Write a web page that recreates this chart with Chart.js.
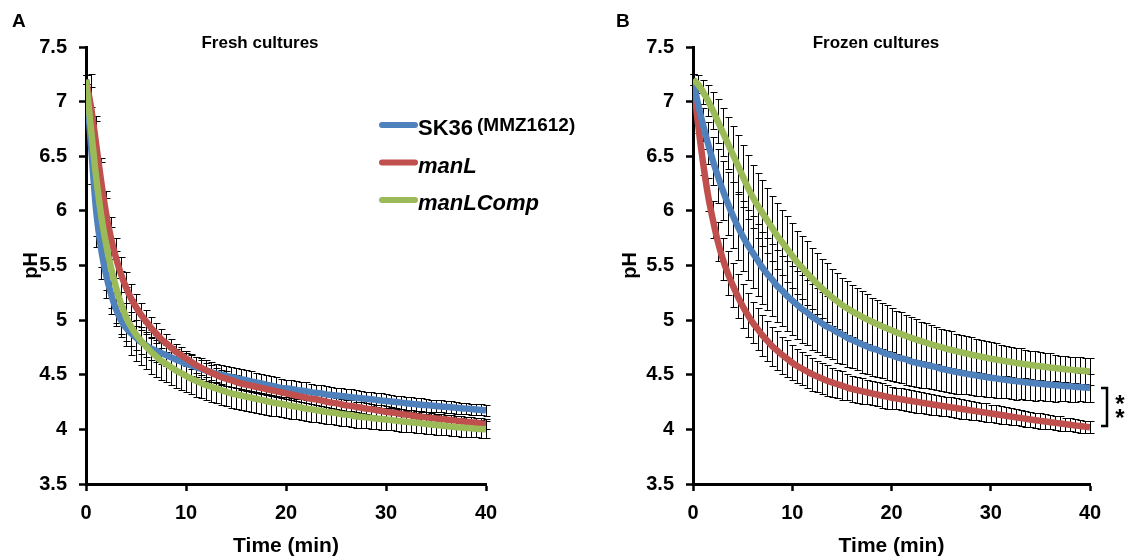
<!DOCTYPE html>
<html>
<head>
<meta charset="utf-8">
<title>pH drop, fresh and frozen cultures</title>
<script src="https://cdn.jsdelivr.net/npm/chart.js@4.4.0/dist/chart.umd.min.js"></script>
<style>
  html, body { margin: 0; padding: 0; background: #fff; }
  #wrap { position: relative; width: 1127px; height: 559px; overflow: hidden; }
  .panel { position: absolute; top: 0; height: 559px; }
  #panelA { left: 0; width: 600px; }
  #panelB { left: 563px; width: 564px; }
</style>
</head>
<body>
<div id="wrap">
  <div class="panel" id="panelA"><canvas id="chartA" width="600" height="559"></canvas></div>
  <div class="panel" id="panelB"><canvas id="chartB" width="564" height="559"></canvas></div>
</div>
<script>
// ============================================================
// DATA (pH, every 0.5 min)
// ============================================================
const time = [
  0, 0.5, 1, 1.5, 2, 2.5, 3, 3.5, 4, 4.5,
  5, 5.5, 6, 6.5, 7, 7.5, 8, 8.5, 9, 9.5,
  10, 10.5, 11, 11.5, 12, 12.5, 13, 13.5, 14, 14.5,
  15, 15.5, 16, 16.5, 17, 17.5, 18, 18.5, 19, 19.5,
  20, 20.5, 21, 21.5, 22, 22.5, 23, 23.5, 24, 24.5,
  25, 25.5, 26, 26.5, 27, 27.5, 28, 28.5, 29, 29.5,
  30, 30.5, 31, 31.5, 32, 32.5, 33, 33.5, 34, 34.5,
  35, 35.5, 36, 36.5, 37, 37.5, 38, 38.5, 39, 39.5,
  40
];

const seriesNames = ['SK36', 'manL', 'manLComp'];

// --- A: fresh cultures ---
const freshSK36 = [
  7.20, 6.60, 6.02, 5.66, 5.42, 5.24, 5.10, 5.00, 4.93, 4.88,
  4.84, 4.80, 4.77, 4.74, 4.72, 4.70, 4.68, 4.66, 4.64, 4.62,
  4.60, 4.585, 4.57, 4.555, 4.54, 4.525, 4.51, 4.50, 4.49, 4.48,
  4.47, 4.46, 4.45, 4.44, 4.43, 4.42, 4.41, 4.40, 4.39, 4.38,
  4.375, 4.37, 4.36, 4.355, 4.35, 4.34, 4.335, 4.33, 4.32, 4.315,
  4.31, 4.305, 4.30, 4.295, 4.29, 4.285, 4.28, 4.275, 4.27, 4.265,
  4.26, 4.255, 4.25, 4.245, 4.24, 4.235, 4.23, 4.226, 4.222, 4.218,
  4.214, 4.21, 4.206, 4.202, 4.198, 4.194, 4.19, 4.186, 4.182, 4.178,
  4.174
];
const freshManL = [
  7.20, 6.95, 6.62, 6.28, 5.98, 5.75, 5.57, 5.42, 5.30, 5.20,
  5.12, 5.05, 4.99, 4.93, 4.88, 4.83, 4.79, 4.75, 4.71, 4.68,
  4.65, 4.62, 4.59, 4.565, 4.54, 4.52, 4.50, 4.48, 4.465, 4.45,
  4.435, 4.42, 4.41, 4.40, 4.39, 4.38, 4.37, 4.36, 4.35, 4.34,
  4.33, 4.32, 4.31, 4.30, 4.29, 4.28, 4.275, 4.265, 4.255, 4.245,
  4.24, 4.23, 4.22, 4.215, 4.205, 4.20, 4.19, 4.185, 4.175, 4.17,
  4.16, 4.155, 4.15, 4.14, 4.135, 4.13, 4.12, 4.115, 4.11, 4.105,
  4.10, 4.095, 4.09, 4.085, 4.08, 4.075, 4.07, 4.065, 4.06, 4.055,
  4.05
];
const freshManLComp = [
  7.20, 6.75, 6.32, 5.97, 5.70, 5.48, 5.30, 5.15, 5.03, 4.94,
  4.87, 4.81, 4.76, 4.71, 4.67, 4.63, 4.60, 4.57, 4.54, 4.515,
  4.49, 4.465, 4.445, 4.425, 4.405, 4.39, 4.375, 4.36, 4.345, 4.33,
  4.32, 4.31, 4.30, 4.29, 4.28, 4.27, 4.26, 4.25, 4.24, 4.235,
  4.225, 4.215, 4.21, 4.20, 4.19, 4.185, 4.175, 4.17, 4.16, 4.155,
  4.15, 4.14, 4.135, 4.13, 4.12, 4.115, 4.11, 4.105, 4.10, 4.095,
  4.09, 4.085, 4.08, 4.075, 4.07, 4.065, 4.06, 4.055, 4.05, 4.045,
  4.04, 4.035, 4.03, 4.025, 4.02, 4.017, 4.013, 4.01, 4.006, 4.003,
  4.00
];
const freshSK36Err = [
  0.04, 0.35, 0.35, 0.28, 0.22, 0.18, 0.15, 0.13, 0.12, 0.115,
  0.11, 0.11, 0.105, 0.105, 0.10, 0.10, 0.10, 0.10, 0.10, 0.10,
  0.10, 0.095, 0.095, 0.095, 0.095, 0.095, 0.09, 0.09, 0.09, 0.09,
  0.09, 0.09, 0.09, 0.09, 0.09, 0.085, 0.085, 0.085, 0.085, 0.08,
  0.08, 0.08, 0.08, 0.08, 0.08, 0.075, 0.075, 0.075, 0.075, 0.07,
  0.07, 0.07, 0.07, 0.07, 0.07, 0.07, 0.065, 0.065, 0.065, 0.065,
  0.065, 0.06, 0.06, 0.06, 0.06, 0.06, 0.06, 0.06, 0.06, 0.055,
  0.055, 0.055, 0.055, 0.055, 0.055, 0.05, 0.05, 0.05, 0.05, 0.05,
  0.05
];
const freshManLErr = [
  0.04, 0.18, 0.20, 0.20, 0.20, 0.19, 0.18, 0.16, 0.14, 0.13,
  0.12, 0.11, 0.10, 0.095, 0.09, 0.085, 0.08, 0.08, 0.075, 0.075,
  0.07, 0.07, 0.07, 0.07, 0.065, 0.065, 0.065, 0.065, 0.065, 0.06,
  0.06, 0.06, 0.06, 0.06, 0.06, 0.06, 0.055, 0.055, 0.055, 0.055,
  0.055, 0.055, 0.05, 0.05, 0.05, 0.05, 0.05, 0.05, 0.05, 0.05,
  0.05, 0.05, 0.05, 0.05, 0.05, 0.05, 0.05, 0.05, 0.05, 0.05,
  0.05, 0.05, 0.05, 0.05, 0.045, 0.045, 0.045, 0.045, 0.045, 0.045,
  0.045, 0.045, 0.045, 0.045, 0.045, 0.045, 0.045, 0.045, 0.045, 0.045,
  0.045
];
const freshManLCompErr = [
  0.04, 0.50, 0.55, 0.48, 0.42, 0.37, 0.33, 0.30, 0.27, 0.255,
  0.24, 0.225, 0.21, 0.20, 0.19, 0.18, 0.17, 0.165, 0.16, 0.155,
  0.15, 0.145, 0.145, 0.14, 0.14, 0.14, 0.135, 0.135, 0.135, 0.13,
  0.13, 0.13, 0.13, 0.13, 0.13, 0.125, 0.125, 0.125, 0.12, 0.12,
  0.12, 0.12, 0.115, 0.115, 0.115, 0.115, 0.11, 0.11, 0.11, 0.11,
  0.11, 0.105, 0.105, 0.105, 0.105, 0.10, 0.10, 0.10, 0.10, 0.10,
  0.10, 0.095, 0.095, 0.095, 0.095, 0.09, 0.09, 0.09, 0.09, 0.09,
  0.09, 0.085, 0.085, 0.085, 0.085, 0.085, 0.08, 0.08, 0.08, 0.08,
  0.08
];

// --- B: frozen cultures ---
const frozenSK36 = [
  7.20, 6.98, 6.79, 6.62, 6.46, 6.32, 6.19, 6.07, 5.96, 5.86,
  5.77, 5.69, 5.62, 5.55, 5.48, 5.42, 5.37, 5.31, 5.27, 5.22,
  5.18, 5.14, 5.10, 5.07, 5.03, 5.00, 4.97, 4.94, 4.92, 4.89,
  4.87, 4.84, 4.82, 4.80, 4.78, 4.76, 4.74, 4.73, 4.71, 4.69,
  4.68, 4.66, 4.65, 4.64, 4.62, 4.61, 4.60, 4.59, 4.58, 4.57,
  4.555, 4.546, 4.536, 4.527, 4.518, 4.51, 4.502, 4.494, 4.487, 4.48,
  4.473, 4.467, 4.46, 4.454, 4.448, 4.443, 4.437, 4.432, 4.427, 4.422,
  4.418, 4.413, 4.409, 4.405, 4.401, 4.397, 4.394, 4.39, 4.387, 4.383,
  4.38
];
const frozenManL = [
  7.20, 6.80, 6.45, 6.15, 5.92, 5.72, 5.56, 5.43, 5.32, 5.22,
  5.13, 5.05, 4.98, 4.92, 4.86, 4.81, 4.76, 4.72, 4.68, 4.645,
  4.61, 4.58, 4.555, 4.53, 4.505, 4.485, 4.465, 4.445, 4.43, 4.415,
  4.40, 4.385, 4.37, 4.36, 4.35, 4.34, 4.33, 4.32, 4.31, 4.30,
  4.29, 4.283, 4.275, 4.268, 4.26, 4.253, 4.245, 4.238, 4.23, 4.223,
  4.216, 4.209, 4.202, 4.195, 4.188, 4.181, 4.174, 4.167, 4.16, 4.153,
  4.146, 4.139, 4.132, 4.125, 4.118, 4.111, 4.104, 4.097, 4.09, 4.084,
  4.078, 4.072, 4.066, 4.06, 4.054, 4.048, 4.042, 4.036, 4.03, 4.025,
  4.02
];
const frozenManLComp = [
  7.20, 7.16, 7.09, 7.01, 6.92, 6.82, 6.72, 6.62, 6.52, 6.42,
  6.32, 6.22, 6.13, 6.05, 5.98, 5.91, 5.84, 5.77, 5.71, 5.65,
  5.59, 5.53, 5.48, 5.43, 5.38, 5.335, 5.29, 5.25, 5.21, 5.175,
  5.14, 5.11, 5.082, 5.057, 5.033, 5.01, 4.987, 4.966, 4.945, 4.926,
  4.907, 4.888, 4.871, 4.854, 4.838, 4.822, 4.807, 4.793, 4.779, 4.765,
  4.753, 4.74, 4.728, 4.717, 4.706, 4.695, 4.685, 4.675, 4.666, 4.657,
  4.648, 4.64, 4.632, 4.624, 4.617, 4.609, 4.603, 4.596, 4.59, 4.583,
  4.578, 4.572, 4.567, 4.561, 4.556, 4.551, 4.547, 4.542, 4.538, 4.534,
  4.53
];
const frozenSK36Err = [
  0.05, 0.10, 0.15, 0.19, 0.22, 0.25, 0.27, 0.29, 0.30, 0.31,
  0.32, 0.32, 0.33, 0.33, 0.33, 0.33, 0.33, 0.33, 0.32, 0.32,
  0.32, 0.31, 0.31, 0.30, 0.30, 0.29, 0.29, 0.28, 0.28, 0.28,
  0.27, 0.27, 0.26, 0.26, 0.26, 0.25, 0.25, 0.25, 0.24, 0.24,
  0.24, 0.23, 0.23, 0.23, 0.22, 0.22, 0.22, 0.21, 0.21, 0.21,
  0.20, 0.20, 0.20, 0.20, 0.19, 0.19, 0.19, 0.19, 0.18, 0.18,
  0.18, 0.18, 0.17, 0.17, 0.17, 0.17, 0.16, 0.16, 0.16, 0.16,
  0.15, 0.15, 0.15, 0.15, 0.14, 0.14, 0.14, 0.14, 0.13, 0.13,
  0.13
];
const frozenManLErr = [
  0.05, 0.09, 0.12, 0.15, 0.17, 0.18, 0.19, 0.20, 0.20, 0.20,
  0.20, 0.20, 0.19, 0.19, 0.19, 0.18, 0.18, 0.18, 0.17, 0.17,
  0.16, 0.16, 0.15, 0.15, 0.15, 0.14, 0.14, 0.14, 0.13, 0.13,
  0.13, 0.12, 0.12, 0.12, 0.12, 0.11, 0.11, 0.11, 0.11, 0.11,
  0.10, 0.10, 0.10, 0.10, 0.10, 0.10, 0.095, 0.095, 0.095, 0.095,
  0.09, 0.09, 0.09, 0.09, 0.09, 0.085, 0.085, 0.085, 0.085, 0.085,
  0.08, 0.08, 0.08, 0.08, 0.075, 0.075, 0.075, 0.075, 0.07, 0.07,
  0.07, 0.07, 0.065, 0.065, 0.065, 0.06, 0.06, 0.06, 0.06, 0.055,
  0.055
];
const frozenManLCompErr = [
  0.05, 0.08, 0.11, 0.14, 0.17, 0.20, 0.22, 0.24, 0.26, 0.27,
  0.28, 0.29, 0.29, 0.30, 0.30, 0.30, 0.30, 0.30, 0.30, 0.30,
  0.30, 0.29, 0.29, 0.29, 0.28, 0.28, 0.27, 0.27, 0.26, 0.26,
  0.25, 0.25, 0.24, 0.24, 0.23, 0.23, 0.22, 0.22, 0.21, 0.21,
  0.20, 0.20, 0.20, 0.19, 0.19, 0.19, 0.18, 0.18, 0.18, 0.17,
  0.17, 0.17, 0.17, 0.16, 0.16, 0.16, 0.16, 0.15, 0.15, 0.15,
  0.15, 0.15, 0.14, 0.14, 0.14, 0.14, 0.14, 0.13, 0.13, 0.13,
  0.13, 0.13, 0.13, 0.12, 0.12, 0.12, 0.12, 0.12, 0.12, 0.12,
  0.12
];

// significance bracket on panel B spans the SK36 and manL end values
const bracketFrom = 4.38;
const bracketTo = 4.03;

// ============================================================
// STYLE
// ============================================================
const FONT = "'Liberation Sans', Arial, Helvetica, sans-serif";
const COLORS = { blue: '#4F81BD', red: '#C0504D', green: '#9BBB59' };

function toPoints(values) {
  return time.map((t, i) => ({ x: t, y: values[i] }));
}

// ============================================================
// PLUGINS
// ============================================================
// vertical error bars with caps, drawn under the lines
const errorBars = {
  id: 'errorBars',
  beforeDatasetsDraw(chart) {
    const { ctx, scales: { x, y } } = chart;
    ctx.save();
    ctx.strokeStyle = '#000';
    ctx.lineWidth = 1;
    chart.data.datasets.forEach(ds => {
      if (!ds.errors) return;
      ds.data.forEach((p, i) => {
        const e = ds.errors[i];
        const px = Math.round(x.getPixelForValue(p.x)) + 0.5;
        const top = Math.round(y.getPixelForValue(p.y + e)) + 0.5;
        const bot = Math.round(y.getPixelForValue(p.y - e)) + 0.5;
        ctx.beginPath();
        ctx.moveTo(px, top); ctx.lineTo(px, bot);
        ctx.moveTo(px - 3, top); ctx.lineTo(px + 4, top);
        ctx.moveTo(px - 3, bot); ctx.lineTo(px + 4, bot);
        ctx.stroke();
      });
    });
    ctx.restore();
  }
};

// panel letter, panel title, legend and significance mark
const panelText = {
  id: 'panelText',
  afterDraw(chart, args, opts) {
    const ctx = chart.ctx;
    ctx.save();
    ctx.fillStyle = '#000';
    ctx.textBaseline = 'alphabetic';

    ctx.font = `bold 19px ${FONT}`;
    ctx.textAlign = 'left';
    ctx.fillText(opts.letter, opts.letterX, 27);

    ctx.font = `bold 17px ${FONT}`;
    ctx.textAlign = 'center';
    ctx.fillText(opts.title, opts.titleX, 48);

    if (opts.legend) {
      const lg = opts.legend;
      lg.items.forEach((it, i) => {
        const ly = lg.y + i * lg.gap;
        ctx.strokeStyle = it.color;
        ctx.lineWidth = 6;
        ctx.lineCap = 'round';
        ctx.beginPath();
        ctx.moveTo(lg.x, ly);
        ctx.lineTo(lg.x + 33, ly);
        ctx.stroke();
        ctx.textAlign = 'left';
        ctx.textBaseline = 'middle';
        ctx.font = `${it.italic ? 'italic ' : ''}bold 22px ${FONT}`;
        ctx.fillText(it.label, lg.x + 36, ly + 4);
        if (it.note) {
          const w = ctx.measureText(it.label).width;
          ctx.font = `bold 19px ${FONT}`;
          ctx.fillText(it.note, lg.x + 36 + w + 4, ly + 1);
        }
      });
    }

    if (opts.bracket) {
      const y = chart.scales.y;
      const y1 = Math.round(y.getPixelForValue(opts.bracket.from));
      const y2 = Math.round(y.getPixelForValue(opts.bracket.to));
      const bx = chart.chartArea.right + 17;
      ctx.strokeStyle = '#000';
      ctx.lineWidth = 2.5;
      ctx.lineCap = 'butt';
      ctx.beginPath();
      ctx.moveTo(bx - 6, y1); ctx.lineTo(bx, y1);
      ctx.lineTo(bx, y2); ctx.lineTo(bx - 6, y2);
      ctx.stroke();
      ctx.font = `bold 24px ${FONT}`;
      ctx.textAlign = 'center';
      ctx.textBaseline = 'middle';
      const mid = (y1 + y2) / 2;
      ctx.fillText('*', bx + 13, mid - 2);
      ctx.fillText('*', bx + 13, mid + 12);
    }
    ctx.restore();
  }
};

// ============================================================
// CHART FACTORY
// ============================================================
function buildChart(canvasId, series, layout, textOpts) {
  const datasets = series.map(s => ({
    label: s.label,
    data: toPoints(s.values),
    errors: s.errors,
    borderColor: s.color,
    backgroundColor: s.color,
    borderWidth: 6.5,
    pointRadius: 0,
    tension: 0.3,
    fill: false,
    order: s.order
  }));

  const tickFont = { family: FONT, size: 20, weight: 'bold' };

  return new Chart(document.getElementById(canvasId), {
    type: 'line',
    data: { datasets },
    plugins: [errorBars, panelText],
    options: {
      responsive: false,
      animation: false,
      devicePixelRatio: 1,
      layout: { padding: { left: layout.padLeft, top: 47, right: layout.padRight, bottom: 0 } },
      plugins: {
        legend: { display: false },
        tooltip: { enabled: false },
        panelText: textOpts
      },
      scales: {
        x: {
          type: 'linear',
          min: 0, max: 40,
          ticks: { stepSize: 10, color: '#000', padding: 10, font: tickFont, callback: v => String(v) },
          grid: { display: true, drawOnChartArea: false, drawTicks: true, tickLength: 7, tickWidth: 2.5, tickColor: '#000', color: '#000' },
          border: { display: true, color: '#000', width: 3 },
          title: { display: true, text: 'Time (min)', color: '#000', padding: { top: 0, bottom: 0 }, font: { family: FONT, size: 21, weight: 'bold' } },
          afterFit: s => { s.height = 75; }
        },
        y: {
          type: 'linear',
          min: 3.5, max: 7.5,
          ticks: { stepSize: 0.5, color: '#000', padding: 12, font: tickFont, callback: v => String(v) },
          grid: { display: true, drawOnChartArea: false, drawTicks: true, tickLength: 7, tickWidth: 2.5, tickColor: '#000', color: '#000' },
          border: { display: true, color: '#000', width: 3 },
          title: { display: true, text: 'pH', color: '#000', padding: { top: 5, bottom: 0 }, font: { family: FONT, size: 20, weight: 'bold' } },
          afterFit: s => { s.width = layout.yWidth; }
        }
      }
    }
  });
}

// ============================================================
// INIT
// ============================================================
buildChart('chartA', [
  { label: seriesNames[0], values: freshSK36, errors: freshSK36Err, color: COLORS.blue, order: 2 },
  { label: seriesNames[1], values: freshManL, errors: freshManLErr, color: COLORS.red, order: 1 },
  { label: seriesNames[2], values: freshManLComp, errors: freshManLCompErr, color: COLORS.green, order: 0 }
], { padLeft: 14, yWidth: 72, padRight: 114 }, {
  letter: 'A', letterX: 12, title: 'Fresh cultures', titleX: 260,
  legend: {
    x: 382, y: 125, gap: 37.5,
    items: [
      { label: seriesNames[0], note: '(MMZ1612)', color: COLORS.blue },
      { label: seriesNames[1], italic: true, color: COLORS.red },
      { label: seriesNames[2], italic: true, color: COLORS.green }
    ]
  }
});

buildChart('chartB', [
  { label: seriesNames[0], values: frozenSK36, errors: frozenSK36Err, color: COLORS.blue, order: 1 },
  { label: seriesNames[1], values: frozenManL, errors: frozenManLErr, color: COLORS.red, order: 2 },
  { label: seriesNames[2], values: frozenManLComp, errors: frozenManLCompErr, color: COLORS.green, order: 0 }
], { padLeft: 50, yWidth: 80, padRight: 37 }, {
  letter: 'B', letterX: 53, title: 'Frozen cultures', titleX: 313,
  bracket: { from: bracketFrom, to: bracketTo }
});
</script>
</body>
</html>
